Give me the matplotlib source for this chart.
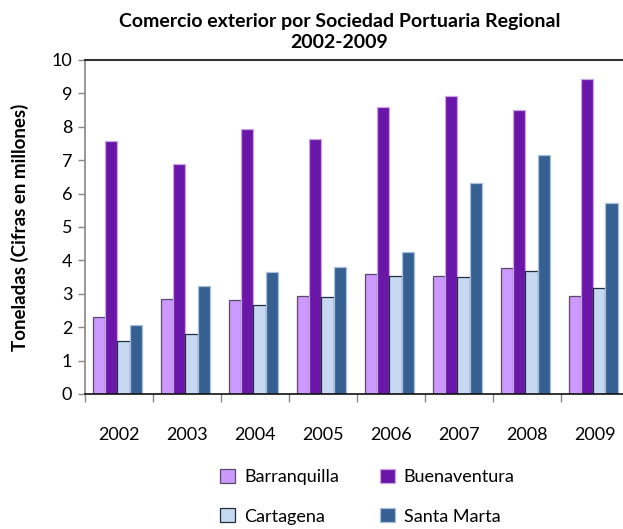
import numpy as np
import matplotlib
matplotlib.use("Agg")
import matplotlib.pyplot as plt
from matplotlib.ticker import FixedLocator

years = ["2002", "2003", "2004", "2005", "2006", "2007", "2008", "2009"]
barranquilla = [2.30, 2.85, 2.80, 2.94, 3.59, 3.54, 3.77, 2.94]
buenaventura = [7.57, 6.88, 7.94, 7.62, 8.58, 8.91, 8.49, 9.42]
cartagena = [1.60, 1.79, 2.66, 2.89, 3.53, 3.49, 3.69, 3.17]
santa_marta = [2.08, 3.23, 3.65, 3.79, 4.25, 6.33, 7.16, 5.73]

series = [
    ("Barranquilla", barranquilla, "#cc99ff", "#5a4a6a"),
    ("Buenaventura", buenaventura, "#6a16a8", "#c9a6e6"),
    ("Cartagena", cartagena, "#c6d9f1", "#1f2d3d"),
    ("Santa Marta", santa_marta, "#366092", "#a9c0dc"),
]

plt.rcParams["font.family"] = ["Lato", "DejaVu Sans"]

fig = plt.figure(figsize=(6.23, 5.29), dpi=100)
ax = fig.add_axes([0.136, 0.2552, 0.873, 0.6314])

x = np.arange(len(years))
w = 0.18
bars = []
for i, (name, vals, fc, ec) in enumerate(series):
    b = ax.bar(x + (i - 1.5) * w - 0.02, vals, width=w, color=fc, edgecolor=ec,
               linewidth=0.9, label=name, zorder=2)
    bars.append(b)

ax.set_xlim(-0.5, len(years) - 0.5)
ax.set_ylim(0, 10)
ax.set_yticks(range(0, 11))
ax.set_xticks(x)
ax.set_xticklabels(years)
ax.xaxis.set_minor_locator(FixedLocator(np.arange(-0.5, len(years), 1.0)))
ax.tick_params(axis="x", which="major", length=0, labelsize=13, pad=24)
ax.tick_params(axis="x", which="minor", length=6, color="#888888", width=1)
ax.tick_params(axis="y", length=5, color="#888888", width=1, labelsize=13, pad=4)

ax.spines["right"].set_visible(False)
ax.spines["left"].set_color("#888888")
ax.spines["left"].set_linewidth(1.2)
ax.spines["bottom"].set_color("#111111")
ax.spines["bottom"].set_linewidth(1.2)
ax.spines["top"].set_color("#333333")
ax.spines["top"].set_linewidth(1.5)

ax.set_ylabel("Toneladas (Cifras en millones)", fontsize=13.5, fontweight="bold", labelpad=16)
fig.text(0.545, 0.975, "Comercio exterior por Sociedad Portuaria Regional\n2002-2009",
         ha="center", va="top", fontsize=14, fontweight="bold", linespacing=1.3)

# matplotlib fills legend columns first; reorder so rows read B, Bu / C, SM
order = [0, 2, 1, 3]
fig.legend([bars[k] for k in order], [series[k][0] for k in order],
           loc="center", bbox_to_anchor=(0.59, 0.061), ncol=2, frameon=False,
           fontsize=13, handlelength=0.8, handleheight=0.8, columnspacing=2.3,
           labelspacing=1.3, handletextpad=0.5)

fig.savefig("out.png", dpi=100)
